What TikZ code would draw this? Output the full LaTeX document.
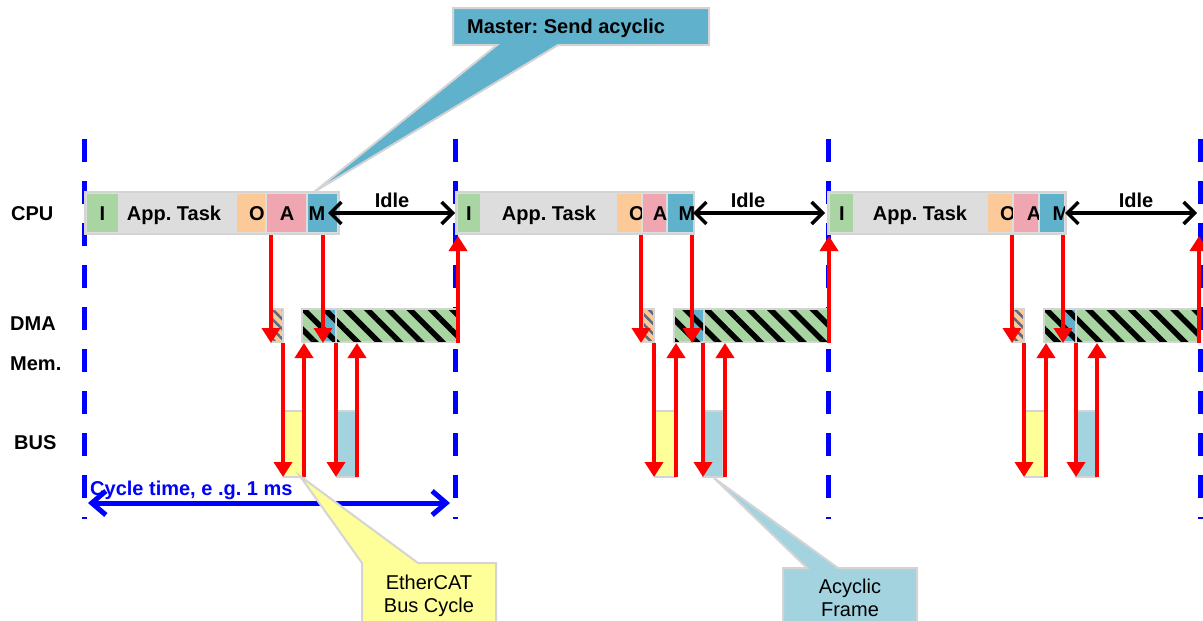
\documentclass[tikz,border=0pt]{standalone}
\usepackage{fontspec}
\setmainfont{Liberation Sans}
\usetikzlibrary{arrows.meta,patterns.meta}
\definecolor{igreen}{RGB}{168,213,162}
\definecolor{appgray}{RGB}{221,221,221}
\definecolor{oorange}{RGB}{252,201,152}
\definecolor{apink}{RGB}{240,166,176}
\definecolor{mblue}{RGB}{96,178,204}
\definecolor{bord}{RGB}{212,212,212}
\definecolor{busyel}{RGB}{255,255,153}
\definecolor{busblue}{RGB}{164,211,224}
\definecolor{slate}{RGB}{90,105,130}
\frenchspacing
\newcommand\cpucell[6]{%
  \fill[#3] (#1,194) rectangle (#2,232);
  \begin{scope}\clip (#1,194) rectangle (#2,232);
    \node[lbl] (#6) at (#4,220) {#5};
  \end{scope}}
\begin{document}
\begin{tikzpicture}[x=1pt,y=-1pt,
  lbl/.style={font=\fontsize{20}{23}\selectfont\bfseries\frenchspacing, inner sep=0pt, anchor=base},
  txt/.style={font=\fontsize{20}{23}\selectfont\frenchspacing, inner sep=0pt, anchor=base},
  cyc/.style={blue, line width=5pt, dash pattern=on 23pt off 19pt},
  bar/.style={fill=appgray, draw=bord, line width=2pt},
  hatch/.style={preaction={fill=igreen}, pattern={Lines[angle=-45,distance=15pt,line width=5.5pt]}, pattern color=black},
  bhatch/.style={preaction={fill=mblue}, pattern={Lines[angle=-45,distance=15pt,line width=5.5pt]}, pattern color=black},
  shatch/.style={preaction={fill=oorange}, pattern={Lines[angle=-45,distance=7pt,line width=2.5pt]}, pattern color=slate},
  idlearrow/.style={black, line width=3.5pt, {Straight Barb[length=11pt,width=22pt]}-{Straight Barb[length=11pt,width=22pt]}},
  redarrow/.style={red, line width=4pt, -{Triangle[length=15pt,width=18pt]}},
  callout/.style={draw=bord, line width=2pt}]
\useasboundingbox (0,0) rectangle (1203,621);

% cycle boundaries
\foreach \x in {84.5,455,828,1200} \draw[cyc] (\x,139) -- (\x,519);

% row labels
\node[lbl,anchor=base west] (lcpu) at (11,220) {CPU};
\node[lbl,anchor=base west] (ldma) at (10,330) {DMA};
\node[lbl,anchor=base west] (lmem) at (10,370) {Mem.};
\node[lbl,anchor=base west] (lbus) at (14,449) {BUS};

% CPU bars
\draw[bar] (85,192) rectangle (339,234);
\cpucell{87}{118}{igreen}{102.5}{I}{i1}
\node[lbl] (app1) at (174,220) {App. Task};
\cpucell{237}{265}{oorange}{257}{O}{o1}
\cpucell{267}{306}{apink}{287}{A}{a1}
\cpucell{308}{337}{mblue}{317}{M}{m1}

\draw[bar] (456,192) rectangle (694,234);
\cpucell{458}{480}{igreen}{469}{I}{i2}
\node[lbl] (app2) at (549,220) {App. Task};
\cpucell{617}{641}{oorange}{637}{O}{o2}
\cpucell{643}{666}{apink}{660}{A}{a2}
\cpucell{668}{693}{mblue}{687}{M}{m2}

\draw[bar] (828,192) rectangle (1066,234);
\cpucell{830}{853}{igreen}{842}{I}{i3}
\node[lbl] (app3) at (920,220) {App. Task};
\cpucell{988}{1012}{oorange}{1008}{O}{o3}
\cpucell{1014}{1038}{apink}{1034}{A}{a3}
\cpucell{1040}{1064}{mblue}{1061}{M}{m3}

% DMA blocks
\foreach \s/\g/\b/\e in {272/302/325/458, 643/674/693/829, 1013/1044/1065/1199}{
  \draw[draw=bord, line width=2pt, shatch] (\s,309) rectangle ({\s+11},342);
  \draw[draw=bord, line width=2pt, fill=bord] (\g,309) rectangle ({\e+1},342);
  \path[hatch] ({\g+1},310) rectangle (\b,341);
  \path[bhatch] (\b,310) rectangle ({\b+10},341);
  \path[hatch] ({\b+12},310) rectangle (\e,341);
}

% BUS frames
\foreach \y/\bl in {284/337, 655/703, 1025/1076}{
  \draw[draw=bord, line width=2pt, fill=busyel] (\y,411) rectangle ({\y+20},477);
  \draw[draw=bord, line width=2pt, fill=busblue] (\bl,411) rectangle ({\bl+20},477);
}

% Idle arrows
\foreach \c/\xa/\xb/\xt in {1/328/455/392, 2/693/825/748, 3/1065/1197/1136}{
  \coordinate (ils\c) at (\xa,213);
  \coordinate (ile\c) at (\xb,213);
  \draw[idlearrow] (ils\c) -- (ile\c);
  \node[lbl] (idle\c) at (\xt,207) {Idle};
}

% red transfer arrows
\foreach \c/\xa/\xb/\xc/\xd/\xe/\xf/\xg in {1/271/323/283/304/336/357/458, 2/641/692/654/676/703/725/829, 3/1012/1063/1024/1046/1076/1097/1199}{
  \coordinate (ra\c) at (\xa,235); \coordinate (rA\c) at (\xa,343);
  \coordinate (rb\c) at (\xb,235); \coordinate (rB\c) at (\xb,343);
  \coordinate (rc\c) at (\xc,343); \coordinate (rC\c) at (\xc,477);
  \coordinate (rd\c) at (\xd,477); \coordinate (rD\c) at (\xd,343);
  \coordinate (re\c) at (\xe,343); \coordinate (rE\c) at (\xe,477);
  \coordinate (rf\c) at (\xf,477); \coordinate (rF\c) at (\xf,343);
  \coordinate (rg\c) at (\xg,343); \coordinate (rG\c) at (\xg,236);
  \draw[redarrow] (ra\c) -- (rA\c);
  \draw[redarrow] (rb\c) -- (rB\c);
  \draw[redarrow] (rc\c) -- (rC\c);
  \draw[redarrow] (rd\c) -- (rD\c);
  \draw[redarrow] (re\c) -- (rE\c);
  \draw[redarrow] (rf\c) -- (rF\c);
  \draw[redarrow] (rg\c) -- (rG\c);
}

% cycle time
\coordinate (ct1) at (88,503);
\coordinate (ct2) at (450,503);
\draw[blue, line width=5pt, {Straight Barb[length=14pt,width=24pt]}-{Straight Barb[length=14pt,width=24pt]}] (ct1) -- (ct2);
\node[lbl, anchor=base west, text=blue] (cyctext) at (90,495) {Cycle time, e .g. 1 ms};

% callouts
\draw[callout, fill=mblue] (453,8) -- (709,8) -- (709,45) -- (558,45) -- (314,192) -- (497,45) -- (453,45) -- cycle;
\node[lbl, anchor=base west] (master) at (467,33) {Master: Send acyclic};

\draw[callout, fill=busyel] (362,630) -- (362,563) -- (300,476) -- (418,563) -- (496,563) -- (496,630) -- cycle;
\node[txt] (ec1) at (429,589) {EtherCAT};
\node[txt] (ec2) at (429,612) {Bus Cycle};

\draw[callout, fill=busblue] (783,630) -- (783,568) -- (807,568) -- (714,478) -- (838,568) -- (917,568) -- (917,630) -- cycle;
\node[txt] (af1) at (850,593) {Acyclic};
\node[txt] (af2) at (850,616) {Frame};
\end{tikzpicture}
\end{document}
